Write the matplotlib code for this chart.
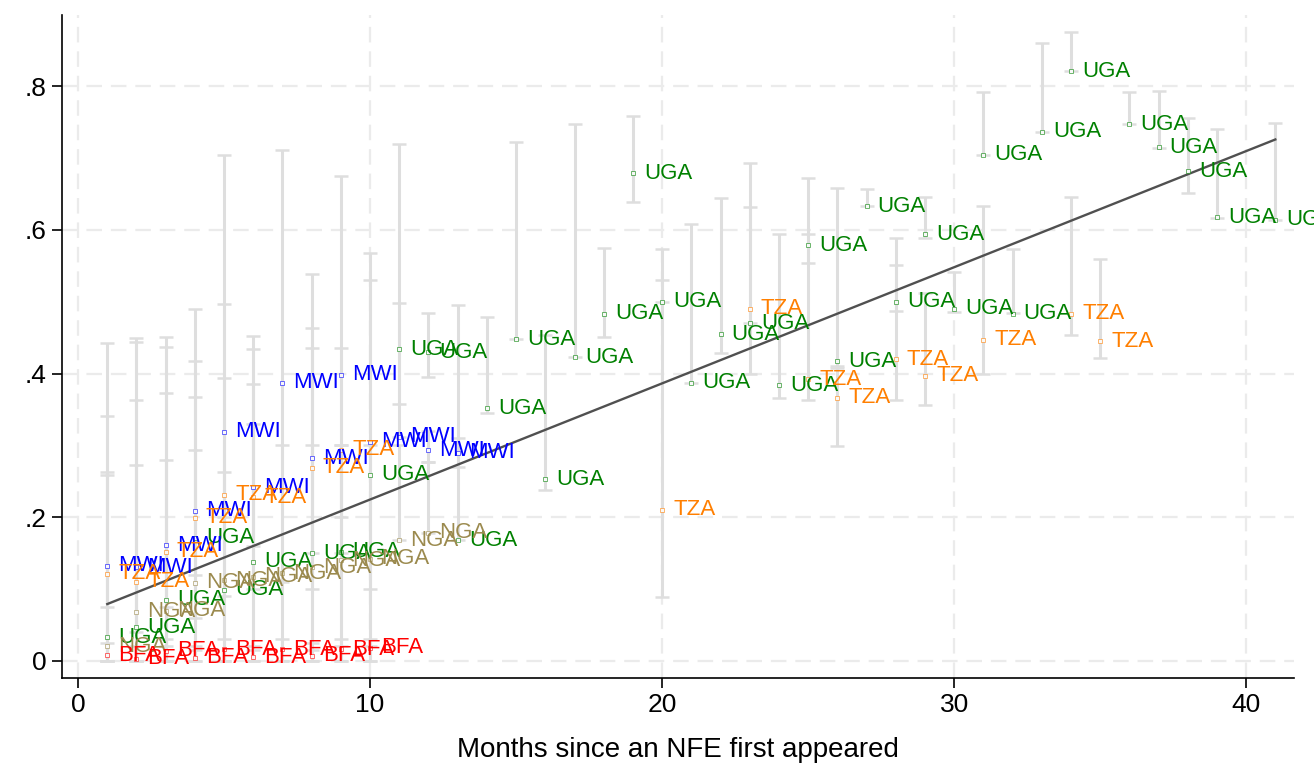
import matplotlib
matplotlib.use("Agg")
import matplotlib.pyplot as plt

plt.rcParams['font.family'] = ['Liberation Sans', 'DejaVu Sans']

# ---- data ----
uga_month = [1, 2, 3, 4, 5, 6, 8, 9, 10, 11, 12, 13, 14, 15, 16, 17, 18, 19, 20, 21, 22, 23, 24,
             25, 26, 27, 28, 29, 30, 31, 32, 33, 34, 36, 37, 38, 39, 41]
uga_share = [0.033, 0.047, 0.085, 0.171, 0.099, 0.138, 0.150, 0.152, 0.259, 0.434, 0.430, 0.168,
             0.352, 0.448, 0.253, 0.423, 0.483, 0.679, 0.500, 0.387, 0.455, 0.470, 0.384, 0.579,
             0.417, 0.633, 0.500, 0.594, 0.490, 0.705, 0.483, 0.737, 0.821, 0.747, 0.715, 0.682,
             0.618, 0.614]
uga_lo = [0.0, 0.0, 0.0, 0.015, 0.0, 0.015, 0.015, 0.02, 0.0, 0.357, 0.395, 0.168, 0.345, 0.448,
          0.238, 0.423, 0.451, 0.639, 0.500, 0.387, 0.428, 0.400, 0.366, 0.554, 0.408, 0.633,
          0.487, 0.589, 0.486, 0.705, 0.484, 0.736, 0.821, 0.747, 0.714, 0.651, 0.617, 0.614]
uga_hi = [0.443, 0.449, 0.451, 0.490, 0.704, 0.452, 0.463, 0.300, 0.568, 0.720, 0.484, 0.495,
          0.479, 0.723, 0.454, 0.747, 0.575, 0.759, 0.573, 0.608, 0.645, 0.632, 0.594, 0.594,
          0.659, 0.657, 0.589, 0.646, 0.541, 0.792, 0.573, 0.861, 0.875, 0.792, 0.793, 0.756,
          0.740, 0.749]

mwi_month = [1, 2, 3, 4, 5, 6, 7, 8, 9, 10, 11, 12, 13]
mwi_share = [0.132, 0.130, 0.161, 0.209, 0.319, 0.242, 0.387, 0.282, 0.398, 0.305, 0.312, 0.293, 0.290]
mwi_lo = [0.075, 0.04, 0.075, 0.12, 0.20, 0.16, 0.11, 0.15, 0.20, 0.10, 0.311, 0.277, 0.27]
mwi_hi = [0.259, 0.273, 0.280, 0.294, 0.497, 0.385, 0.712, 0.435, 0.675, 0.530, 0.498, 0.320, 0.31]

tza_month = [1, 2, 3, 4, 5, 6, 8, 9, 20, 23, 25, 26, 28, 29, 31, 34, 35]
tza_share = [0.121, 0.110, 0.152, 0.199, 0.231, 0.228, 0.269, 0.294, 0.210, 0.490, 0.392, 0.366,
             0.420, 0.397, 0.447, 0.483, 0.445]
tza_lo = [0.0, 0.0, 0.02, 0.06, 0.09, 0.10, 0.10, 0.15, 0.089, 0.470, 0.363, 0.299, 0.363, 0.356,
          0.400, 0.454, 0.421]
tza_hi = [0.341, 0.363, 0.373, 0.367, 0.394, 0.330, 0.538, 0.435, 0.530, 0.693, 0.672, 0.410,
          0.551, 0.512, 0.634, 0.646, 0.559]

nga_month = [1, 2, 3, 4, 5, 6, 7, 8, 9, 10, 11, 12]
nga_share = [0.020, 0.068, 0.070, 0.109, 0.112, 0.117, 0.122, 0.130, 0.140, 0.142, 0.168, 0.178]
nga_lo = [0.0, 0.0, 0.0, 0.0, 0.0, 0.0, 0.0, 0.0, 0.0, 0.02, 0.168, 0.178]
nga_hi = [0.263, 0.444, 0.437, 0.417, 0.263, 0.434, 0.300, 0.300, 0.300, 0.300, 0.300, 0.277]

bfa_month = [1, 2, 3, 4, 5, 6, 7, 8, 9, 10]
bfa_share = [0.008, 0.003, 0.014, 0.004, 0.016, 0.005, 0.016, 0.007, 0.016, 0.018]
bfa_lo = [0.0, 0.0, 0.0, 0.0, 0.0, 0.0, 0.0, 0.0, 0.0, 0.0]
bfa_hi = [0.025, 0.02, 0.03, 0.02, 0.03, 0.02, 0.03, 0.025, 0.03, 0.03]

fit_month = [1, 41]
fit_share = [0.079, 0.726]

x_ticks = [0, 10, 20, 30, 40]
y_ticks = [0, 0.2, 0.4, 0.6, 0.8]
y_ticklabels = ['0', '.2', '.4', '.6', '.8']
x_label = 'Months since an NFE first appeared'

series = [
    ('UGA', uga_month, uga_share, uga_lo, uga_hi, '#008000'),
    ('MWI', mwi_month, mwi_share, mwi_lo, mwi_hi, '#0000ff'),
    ('TZA', tza_month, tza_share, tza_lo, tza_hi, '#ff7f00'),
    ('NGA', nga_month, nga_share, nga_lo, nga_hi, '#9b8a4e'),
    ('BFA', bfa_month, bfa_share, bfa_lo, bfa_hi, '#ff0000'),
]

# ---- figure ----
fig = plt.figure(figsize=(13.14, 7.63), dpi=100)
ax = fig.add_axes([0.0472, 0.1114, 0.9376, 0.8686])

ax.set_xlim(-0.55, 41.64)
ax.set_ylim(-0.024, 0.899)

ax.set_xticks(x_ticks)
ax.set_yticks(y_ticks)
ax.set_yticklabels(y_ticklabels)
ax.grid(True, color='#ebebeb', linestyle=(0, (7, 4)), linewidth=1.6, zorder=0)
ax.set_axisbelow(True)

for sp in ['top', 'right']:
    ax.spines[sp].set_visible(False)
for sp in ['left', 'bottom']:
    ax.spines[sp].set_linewidth(1.2)
ax.tick_params(axis='both', direction='out', length=7, width=1.2, labelsize=19, pad=4)

# error bars
for name, m, s, lo, hi, col in series:
    for xi, l, h in zip(m, lo, hi):
        ax.errorbar([xi], [(l + h) / 2], yerr=[[(h - l) / 2], [(h - l) / 2]], fmt='none',
                    ecolor='#dedede', elinewidth=2.2, capsize=5, capthick=1.8, zorder=1)

# fit line
ax.plot(fit_month, fit_share, color='#505050', linewidth=1.7, zorder=3)

# markers and labels
for name, m, s, lo, hi, col in series:
    ax.plot(m, s, linestyle='none', marker='s', markersize=3.4, markerfacecolor='white',
            markeredgecolor=col, markeredgewidth=0.5, alpha=0.8, zorder=4)
    for xi, yi in zip(m, s):
        ax.annotate(name, (xi, yi), xytext=(8, 0), textcoords='offset points',
                    ha='left', va='center', color=col, fontsize=16, zorder=5)

ax.set_xlabel(x_label, fontsize=20, labelpad=14)

fig.savefig('out.png', dpi=100)
